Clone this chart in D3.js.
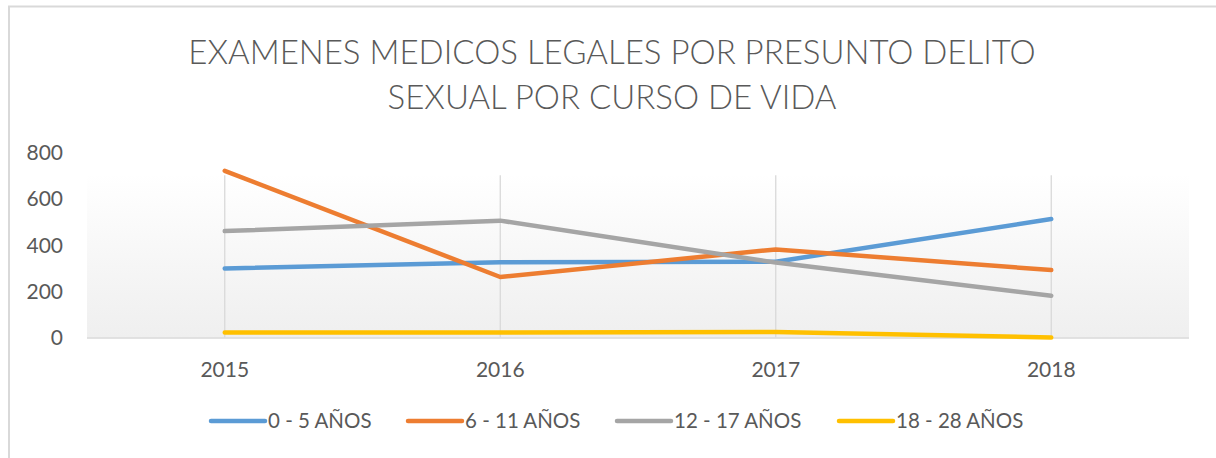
<!DOCTYPE html>
<html>
<head>
<meta charset="utf-8">
<script src="https://cdn.jsdelivr.net/npm/d3@7"></script>
<style>
  html, body { margin: 0; padding: 0; background: #fff; }
  svg { display: block; }
</style>
</head>
<body>
<svg id="chart" width="1216" height="458"></svg>
<script>
const categories = ["2015", "2016", "2017", "2018"];
const seriesNames = ["0 - 5 AÑOS", "6 - 11 AÑOS", "12 - 17 AÑOS", "18 - 28 AÑOS"];
const age0to5 = [298, 324, 327, 511];
const age6to11 = [719, 261, 380, 291];
const age12to17 = [459, 504, 323, 180];
const age18to28 = [22, 22, 24, 0];
const yTicks = [0, 200, 400, 600, 800];
const titleLines = ["EXAMENES MEDICOS LEGALES POR PRESUNTO DELITO", "SEXUAL POR CURSO DE VIDA"];

const seriesValues = [age0to5, age6to11, age12to17, age18to28];
const colors = ["#5b9bd5", "#ed7d31", "#a5a5a5", "#ffc000"];
const FONT = "Lato, 'Open Sans', sans-serif";

const svg = d3.select("#chart");

// chart border (extends beyond right/bottom edges)
svg.append("rect")
  .attr("x", 9).attr("y", 6.5)
  .attr("width", 1230).attr("height", 470)
  .attr("fill", "#fff")
  .attr("stroke", "#d9d9d9").attr("stroke-width", 2);

const plot = { left: 87, right: 1189, top: 152, bottom: 337.5 };

const x = d3.scaleBand().domain(categories).range([plot.left, plot.right]).padding(0);
const y = d3.scaleLinear().domain([0, 800]).range([plot.bottom, plot.top]);

// gradient plot area
const defs = svg.append("defs");
const grad = defs.append("linearGradient").attr("id", "pa").attr("x1", 0).attr("y1", 0).attr("x2", 0).attr("y2", 1);
grad.append("stop").attr("offset", "0%").attr("stop-color", "#ffffff");
grad.append("stop").attr("offset", "12%").attr("stop-color", "#ffffff");
grad.append("stop").attr("offset", "100%").attr("stop-color", "#efefef");
svg.append("rect")
  .attr("x", plot.left).attr("y", plot.top)
  .attr("width", plot.right - plot.left).attr("height", plot.bottom - plot.top)
  .attr("fill", "url(#pa)");

// vertical gridlines at category centers
svg.append("g").selectAll("line").data(categories).join("line")
  .attr("x1", d => x(d) + x.bandwidth() / 2).attr("x2", d => x(d) + x.bandwidth() / 2)
  .attr("y1", y(700)).attr("y2", plot.bottom)
  .attr("stroke", "#d9d9d9").attr("stroke-width", 1.3);

// x axis baseline
svg.append("line")
  .attr("x1", plot.left).attr("x2", plot.right)
  .attr("y1", y(0) + 0.5).attr("y2", y(0) + 0.5)
  .attr("stroke", "#d9d9d9").attr("stroke-width", 1.5);

// y axis labels
const yAxis = d3.axisLeft(y).tickValues(yTicks).tickSize(0).tickPadding(0);
const yg = svg.append("g").attr("transform", "translate(63,0)").call(yAxis);
yg.select(".domain").remove();
yg.selectAll("text")
  .attr("font-family", FONT).attr("font-size", 21).attr("fill", "#595959")
  .attr("dy", "0.35em");

// x axis labels
const xAxis = d3.axisBottom(x).tickSize(0).tickPadding(0);
const xg = svg.append("g").attr("transform", `translate(0,${plot.bottom})`).call(xAxis);
xg.select(".domain").remove();
xg.selectAll("text")
  .attr("font-family", FONT).attr("font-size", 21).attr("fill", "#595959")
  .attr("dy", null).attr("y", 39);

// lines
const line = d3.line()
  .x((d, i) => x(categories[i]) + x.bandwidth() / 2)
  .y(d => y(d));
svg.append("g").selectAll("path").data(seriesValues).join("path")
  .attr("d", d => line(d))
  .attr("fill", "none")
  .attr("stroke", (d, i) => colors[i])
  .attr("stroke-width", 4.5)
  .attr("stroke-linejoin", "round")
  .attr("stroke-linecap", "round");

// title
svg.append("g").selectAll("text").data(titleLines).join("text")
  .attr("x", 612).attr("y", (d, i) => 64 + i * 44.5)
  .attr("text-anchor", "middle")
  .attr("font-family", FONT).attr("font-weight", 300)
  .attr("font-size", 33).attr("fill", "#595959")
  .text(d => d);

// legend
const legendX = [211, 408, 617, 839];
const lg = svg.append("g").selectAll("g").data(seriesNames).join("g")
  .attr("transform", (d, i) => `translate(${legendX[i]},421)`);
lg.append("line")
  .attr("x1", 0).attr("x2", 54).attr("y1", 0).attr("y2", 0)
  .attr("stroke", (d, i) => colors[i]).attr("stroke-width", 4.5)
  .attr("stroke-linecap", "round");
lg.append("text")
  .attr("x", 57).attr("y", 0).attr("dy", "0.35em")
  .attr("font-family", FONT).attr("font-size", 20.5).attr("fill", "#595959")
  .text(d => d);
</script>
</body>
</html>
